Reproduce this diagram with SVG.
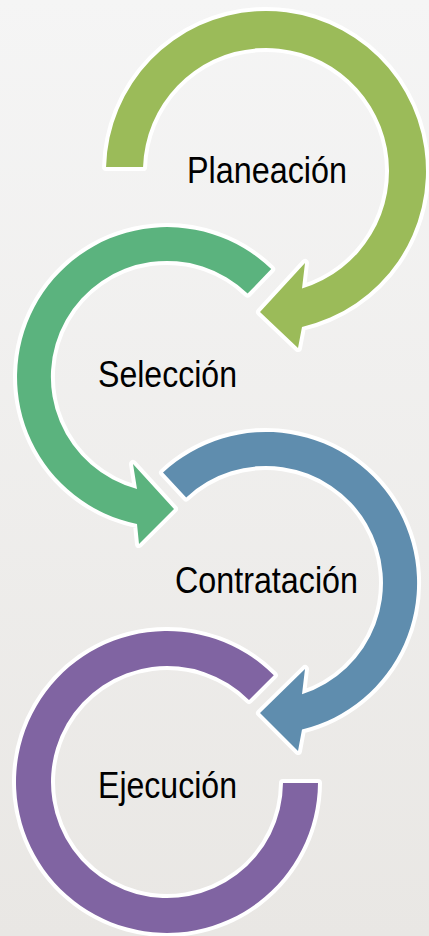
<svg xmlns="http://www.w3.org/2000/svg" width="429" height="936" viewBox="0 0 429 936">
  <defs>
    <linearGradient id="bg" x1="0" y1="0" x2="0" y2="1">
      <stop offset="0" stop-color="#f5f5f5"/>
      <stop offset="1" stop-color="#e9e7e4"/>
    </linearGradient>
    <style>
      .ring { stroke: #ffffff; stroke-width: 8; stroke-linejoin: round; paint-order: stroke; }
      .lbl { font-family: "Liberation Sans", Arial, sans-serif; font-size: 37px; fill: #000000; }
    </style>
  </defs>
  <rect x="0" y="0" width="429" height="936" fill="url(#bg)"/>
  <g id="connectors"/>
  <g id="node-planeacion">
    <path class="ring" fill="#9bbb59" d="M106.05,167 A160,160 0 1 1 302,326.9 L298,348 L260,312 L305,263 L302,288.6 A123,123 0 1 0 143.07,167 Z"/>
    <text class="lbl" x="187" y="183" textLength="160" lengthAdjust="spacingAndGlyphs">Planeación</text>
  </g>
  <g id="node-seleccion">
    <path class="ring" fill="#5bb37e" d="M271.2,269.1 A150,150 0 1 0 137,524 L139,544 L174,509 L133,464 L137,489 A116,116 0 1 1 247.6,293.6 Z"/>
    <text class="lbl" x="98" y="387" textLength="139" lengthAdjust="spacingAndGlyphs">Selección</text>
  </g>
  <g id="node-contratacion">
    <path class="ring" fill="#5f8dae" d="M163,472.6 A151,151 0 1 1 302,729.6 L298,751 L260,713 L305,669 L302,694.3 A117,117 0 1 0 186.2,497.4 Z"/>
    <text class="lbl" x="175" y="593" textLength="183" lengthAdjust="spacingAndGlyphs">Contratación</text>
  </g>
  <g id="node-ejecucion">
    <path class="ring" fill="#8064a2" d="M273.8,675.2 A151,151 0 1 0 318,783 L283,783 A116,116 0 1 1 249,700 Z"/>
    <text class="lbl" x="98" y="798" textLength="139" lengthAdjust="spacingAndGlyphs">Ejecución</text>
  </g>
</svg>
